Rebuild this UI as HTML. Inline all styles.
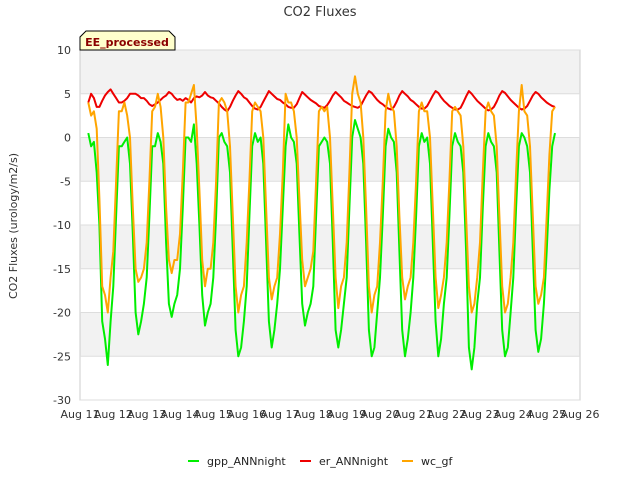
<!DOCTYPE html>
<html><head><meta charset="utf-8"><style>
body{margin:0;background:#fff;font-family:"Liberation Sans","DejaVu Sans",sans-serif}
svg text{font-family:"DejaVu Sans","Liberation Sans",sans-serif}
</style></head><body>
<svg id="chart" width="640" height="480" viewBox="0 0 640 480" xmlns="http://www.w3.org/2000/svg">
<text x="320" y="16" text-anchor="middle" font-size="13" fill="#333">CO2 Fluxes</text>
<g id="bands"></g>
<rect x="80" y="50" width="500" height="350" fill="none" stroke="#ccc"/>
<g id="yt"></g><g id="xt"></g>
<text transform="translate(17,226) rotate(-90)" text-anchor="middle" font-size="11" fill="#333">CO2 Fluxes (urology/m2/s)</text>
<g id="series"></g>
<g>
<path d="M80,50 L80,37 L86,31 L169,31 L175,37 L175,50 Z" fill="#ffffcc" stroke="#000" stroke-width="1"/>
<text x="127" y="46" text-anchor="middle" font-size="11" font-weight="bold" fill="#8b0000">EE_processed</text>
</g>
<g id="legend"></g>
</svg>
<script>
const yTicks=[10,5,0,-5,-10,-15,-20,-25,-30];
const xTickLabels=["Aug 11","Aug 12","Aug 13","Aug 14","Aug 15","Aug 16","Aug 17","Aug 18","Aug 19","Aug 20","Aug 21","Aug 22","Aug 23","Aug 24","Aug 25","Aug 26"];
const startDay=11.25; const stepDay=1/12;
const gpp=[0.5,-1,-0.5,-4,-10,-21,-23,-26,-21,
-17,-9,-1,-1,-0.5,0,-3,-11,-20,-22.5,-21,-19,
-16,-9,-1,-1,0.5,-0.5,-3,-12,-19,-20.5,-19,-18,
-15,-8,0,0,-0.5,1.5,-3,-10,-18,-21.5,-20,-19,
-16,-9,0,0.5,-0.5,-1,-4,-13,-22,-25,-24,-21,
-17,-9,-1,0.5,-0.5,0,-3,-12,-21,-24,-22,-19,
-15,-8,-1,1.5,0,-0.5,-3,-11,-19,-21.5,-20,-19,
-17,-9,-1,-0.5,0,-0.5,-3,-12,-22,-24,-22,-19,
-16,-8,0,2,1,0,-3,-12,-22,-25,-24,-20,
-16,-9,-1,1,0,-0.5,-4,-13,-22,-25,-23,-20,
-16,-9,-1,0.5,-0.5,0,-3,-12,-21,-25,-23,-19,
-16,-9,-1,0.5,-0.5,-1,-4,-13,-24,-26.5,-24,-19,
-16,-8,-1,0.5,-0.5,-1,-4,-13,-22,-25,-24,-20,
-16,-8,-1,0.5,0,-1,-4,-13,-22,-24.5,-23,-19,
-13,-6,-1,0.5];
const er=[4,5,4.5,3.5,3.5,4.2,4.8,5.2,5.5,
5,4.5,4,4,4.2,4.5,5,5,5,4.8,4.5,4.5,
4.2,3.8,3.6,3.8,4,4.3,4.6,4.8,5.2,5,4.6,4.3,
4.4,4.2,4.5,4.3,4,4.5,4.7,4.6,4.8,5.2,4.8,4.6,
4.5,4.2,3.9,3.5,3.2,3,3.5,4.2,4.8,5.3,5,4.6,
4.4,4,3.6,3.3,3.2,3.5,4.1,4.7,5.3,5,4.7,4.4,
4.3,4,3.8,3.5,3.4,3.4,3.8,4.5,5.2,4.9,4.6,4.3,
4.1,3.9,3.6,3.5,3.4,3.7,4.2,4.8,5.2,4.9,4.6,4.2,
4,3.8,3.6,3.5,3.4,3.6,4.2,4.8,5.3,5.1,4.7,4.3,
4,3.8,3.5,3.3,3.2,3.5,4.1,4.8,5.3,5,4.7,4.3,
4.1,3.8,3.5,3.3,3.3,3.6,4.2,4.8,5.3,5.1,4.6,4.2,
3.9,3.6,3.4,3.2,3.2,3.4,4,4.7,5.3,5,4.6,4.2,
3.9,3.6,3.3,3.1,3.2,3.5,4.1,4.8,5.3,5.1,4.7,4.3,
4,3.7,3.4,3.2,3.3,3.6,4.2,4.8,5.2,5,4.6,4.3,
4,3.8,3.6,3.5];
const wc=[4,2.5,3,1,-7,-17,-18,-20,-16,
-13,-5,3,3,4,2.5,0,-8,-15,-16.5,-16,-15,
-12,-5,3,3.5,5,3.5,0,-8,-14,-15.5,-14,-14,
-11,-4,4,4,5,6,1,-6,-14,-17,-15,-15,
-12,-5,4,4.5,4,3,-1,-9,-17,-20,-18,-17,
-12,-5,3,4,3.5,3,0,-8,-16,-18.5,-17,-16,
-11,-4,5,4,4,3,0,-7,-14,-17,-16,-15,
-13,-5,3,3.5,3,3.5,0,-8,-16,-19.5,-17,-16,
-12,-4,5,7,5,4,0,-8,-17,-20,-18,-17,
-12,-5,3,5,3.5,3,-1,-9,-16,-18.5,-17,-16,
-12,-5,3,4,3,3,0,-8,-16,-19.5,-18,-16,
-12,-5,3,3.5,3,2.5,-1,-9,-17,-20,-19,-16,
-12,-4,3,4,3,2.5,-1,-9,-17,-20,-19,-16,
-12,-4,3,6,3,2.5,-1,-9,-17,-19,-18,-16,
-9,-2,3,3.5];
const NS="http://www.w3.org/2000/svg";
const X0=80,X1=580,Y0=50,Y1=400;
function xs(d){return X0+(d-11)/(26-11)*(X1-X0);}
function ys(v){return Y0+(10-v)/40*(Y1-Y0);}
function mk(tag,attrs,parent){const e=document.createElementNS(NS,tag);for(const k in attrs)e.setAttribute(k,attrs[k]);parent.appendChild(e);return e;}
const bands=document.getElementById('bands');
for(let i=0;i<yTicks.length-1;i+=2){
 const r=mk('rect',{x:X0,y:ys(yTicks[i]),width:X1-X0,height:ys(yTicks[i+1])-ys(yTicks[i]),fill:'#f2f2f2'},bands);
 
 
}
const yt=document.getElementById('yt');
yTicks.forEach(v=>{
 const l=mk('line',{x1:X0,x2:X1,y1:ys(v),y2:ys(v),stroke:'#ddd'},yt);
 
 
 const t=mk('text',{x:71,y:ys(v)+4,'text-anchor':'end','font-size':11,fill:'#333'},yt);
 
 
 t.textContent=v;
});
const xt=document.getElementById('xt');
xTickLabels.forEach((s,i)=>{
 const t=mk('text',{x:xs(11+i),y:418,'text-anchor':'middle','font-size':11,fill:'#333'},xt);
 
 
 t.textContent=s;
});
const ser=document.getElementById('series');
function line(arr,color,name){
 const pts=arr.map((v,i)=>xs(startDay+i*stepDay).toFixed(1)+','+ys(v).toFixed(1)).join(' ');
 const p=mk('polyline',{points:pts,fill:'none',stroke:color,'stroke-width':2,'stroke-linejoin':'round'},ser);
 
 
}
line(gpp,'#00ee00','gpp-line');
line(er,'#ee0000','er-line');
line(wc,'#ffa500','wc-line');
const lg=document.getElementById('legend');
[['gpp_ANNnight','#00ee00',188],['er_ANNnight','#ee0000',300],['wc_gf','#ffa500',402]].forEach(([n,c,x])=>{
 const g=mk('g',{},lg);
 
 
 mk('line',{x1:x,x2:x+11,y1:461,y2:461,stroke:c,'stroke-width':2},g);
 const t=mk('text',{x:x+19,y:465,'font-size':11,fill:'#222'},g);
 t.textContent=n;
});
</script>
</body></html>
